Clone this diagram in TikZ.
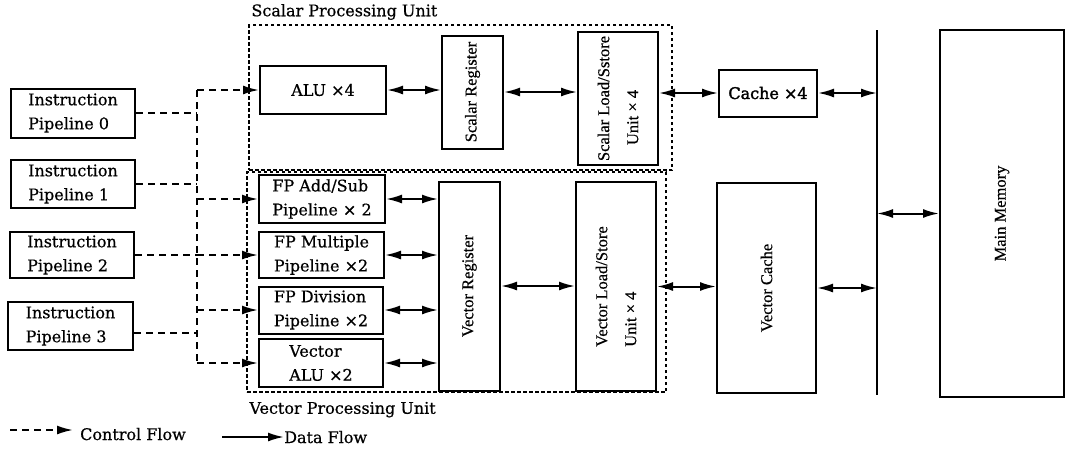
\documentclass[tikz,border=0pt]{standalone}
\usepackage{fontspec}
\setmainfont{DejaVu Serif}[FakeBold=0.6]
\newfontfamily\narrowserif{Liberation Serif}[FakeBold=0.5]
\newfontfamily\heavyserif{DejaVu Serif}[FakeBold=2]
\usetikzlibrary{arrows.meta}

\begin{document}
\begin{tikzpicture}[x=1pt,y=-1pt,
  >={Latex[length=16pt,width=9pt]},
  box/.style={draw, line width=2pt, inner sep=0pt, align=left,
              font=\fontsize{16}{24}\selectfont},
  vtext/.style={rotate=90, inner sep=0pt, align=left,
                font=\narrowserif\fontsize{16.5}{29}\selectfont},
  unitbox/.style={draw, line width=1.5pt, dash pattern=on 3.5pt off 2.5pt, inner sep=0pt},
  unitlab/.style={anchor=base west, inner sep=0pt, font=\fontsize{16}{20}\selectfont},
  ctrl/.style={line width=2pt, dash pattern=on 7pt off 5pt},
  data/.style={line width=2pt},
  tip/.style={->},
  both/.style={<->},
]
\useasboundingbox (0,0) rectangle (1068,448);

% processing unit frames
\node[unitbox, minimum width=423, minimum height=145] (spu) at (460.5,97.5) {};
\node[unitbox, minimum width=419, minimum height=220] (vpu) at (456.5,282) {};
\node[unitlab] (spulab) at ([xshift=3pt,yshift=8pt]spu.north west) {Scalar Processing Unit};
\node[unitlab] (vpulab) at ([xshift=3pt,yshift=-21pt]vpu.south west) {Vector Processing Unit};

% instruction pipelines
\node[box, minimum width=124, minimum height=49] (ip0) at (73,113) {Instruction\\Pipeline 0};
\node[box, minimum width=124, minimum height=48] (ip1) at (73,184) {Instruction\\Pipeline 1};
\node[box, minimum width=124, minimum height=46] (ip2) at (72,255) {Instruction\\Pipeline 2};
\node[box, minimum width=125, minimum height=48] (ip3) at (70.5,326) {Instruction\\Pipeline 3};

% functional units
\node[box, minimum width=126, minimum height=48] (alu) at (323,90) {ALU ×4};
\node[box, minimum width=126, minimum height=48] (fpadd) at (322,199) {FP Add/Sub\\Pipeline × 2};
\node[box, minimum width=125, minimum height=46] (fpmul) at (321.5,255) {FP Multiple\\Pipeline ×2};
\node[box, minimum width=124, minimum height=47] (fpdiv) at (321,310) {FP Division\\Pipeline ×2};
\node[box, minimum width=124, minimum height=48] (valu) at (321,363) {Vector\\ALU ×2};

% registers, load/store units, caches, memory
\node[box, minimum width=61, minimum height=113] (sreg) at (472.5,92) {};
\node[vtext] (sregt) at (sreg.center) {Scalar Register};
\node[box, minimum width=80, minimum height=133] (sls) at (618,98.5) {};
\node[vtext] (slst) at (sls.center) {Scalar Load/Sstore\\\hspace*{16pt}Unit × 4};
\node[box, minimum width=61, minimum height=209] (vreg) at (469.5,286) {};
\node[vtext] (vregt) at (vreg.center) {Vector Register};
\node[box, minimum width=80, minimum height=209] (vls) at (616,286.5) {};
\node[vtext] (vlst) at (vls.center) {Vector Load/Store\\Unit × 4};
\node[box, minimum width=98, minimum height=47, font=\heavyserif\fontsize{16}{24}\selectfont] (cache) at (768,93) {Cache ×4};
\node[box, minimum width=99, minimum height=210] (vcache) at (766.5,288) {};
\node[vtext] (vcachet) at (vcache.center) {Vector Cache};
\node[box, minimum width=124, minimum height=367] (mm) at (1002,213.5) {};
\node[vtext] (mmt) at (mm.center) {Main Memory};

% memory bus
\coordinate (bt) at (877,30);
\coordinate (bb) at (877,395);
\draw[data] (bt) -- (bb);

% control flow
\coordinate (bus) at (197,0);
\draw[ctrl] (ip0.east) -- (ip0.east -| bus);
\draw[ctrl] (ip1.east) -- (ip1.east -| bus);
\draw[ctrl] (ip2.east) -- (ip2.east -| bus);
\draw[ctrl] ([yshift=-7pt]ip3.east) -- ([yshift=-7pt]ip3.east -| bus);
\draw[ctrl] (alu.west -| bus) -- (valu.west -| bus);
\foreach \t in {alu,fpadd,fpmul,fpdiv,valu}
  \draw[ctrl,tip] (\t.west -| bus) -- (\t.west);

% data flow
\draw[data,both] (alu.east) -- (alu.east -| sreg.west);
\draw[data,both] (sreg.east) -- (sreg.east -| sls.west);
\draw[data,both] (cache.west -| sls.east) -- (cache.west);
\draw[data,both] (cache.east) -- (cache.east -| bt);
\foreach \t in {fpadd,fpmul,fpdiv,valu}
  \draw[data,both] (\t.east) -- (\t.east -| vreg.west);
\draw[data,both] (vreg.east) -- (vreg.east -| vls.west);
\draw[data,both] (vls.east) -- (vls.east -| vcache.west);
\draw[data,both] (vcache.east) -- (vcache.east -| bt);
\draw[data,both] (mm.west -| bt) -- (mm.west);

% legend
\node[unitlab] (cf) at (80,440) {Control Flow};
\coordinate (cfs) at (10,430);
\draw[ctrl,tip,shorten >=7pt] (cfs) -- (cfs -| cf.west);
\node[unitlab] (df) at (284,443) {Data Flow};
\coordinate (dfs) at (222,437);
\draw[data,tip] (dfs) -- (dfs -| df.west);
\end{tikzpicture}
\end{document}
